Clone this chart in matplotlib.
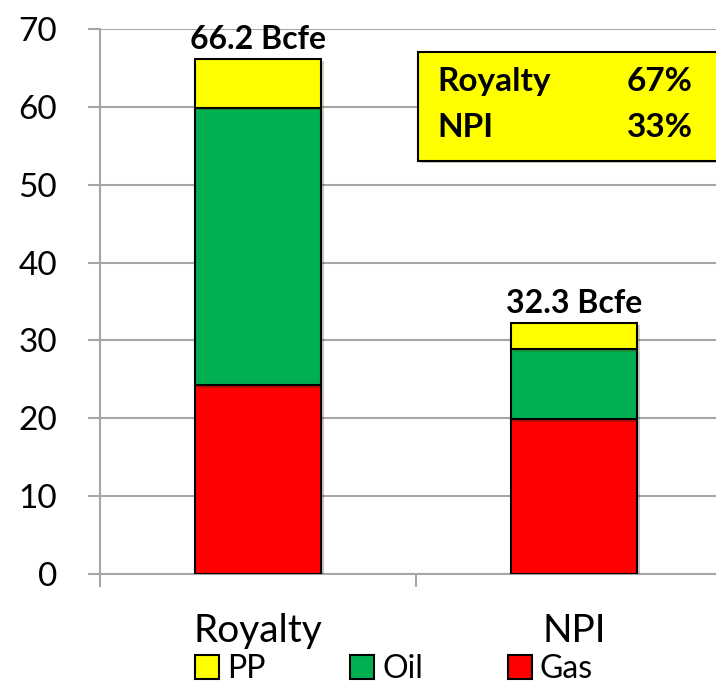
import matplotlib
matplotlib.use("Agg")
import matplotlib.pyplot as plt
from matplotlib.patches import Patch, Rectangle
import matplotlib.patheffects as pe

plt.rcParams['font.family'] = ['Lato', 'DejaVu Sans']

# ===================== data =====================
categories = ['Royalty', 'NPI']
gas = [24.3, 19.9]
oil = [35.6, 9.0]
pp = [6.3, 3.4]
totals = ['66.2 Bcfe', '32.3 Bcfe']
share_names = ['Royalty', 'NPI']
share_values = ['67%', '33%']

colors = {'Gas': '#FF0000', 'Oil': '#00B050', 'PP': '#FFFF00'}
grid_c = '#A6A6A6'

fig = plt.figure(figsize=(7.16, 6.84), dpi=100)
ax = fig.add_axes([100 / 716, 110 / 684, 632 / 716, 545 / 684])

x = list(range(len(categories)))
shadow = [pe.SimplePatchShadow(offset=(2, -2), alpha=0.25), pe.Normal()]
bw = 0.4
b1 = ax.bar(x, gas, bw, color=colors['Gas'], edgecolor='black', linewidth=1.5, zorder=3)
bottom2 = gas
b2 = ax.bar(x, oil, bw, bottom=bottom2, color=colors['Oil'], edgecolor='black', linewidth=1.5, zorder=3)
bottom3 = [g + o for g, o in zip(gas, oil)]
b3 = ax.bar(x, pp, bw, bottom=bottom3, color=colors['PP'], edgecolor='black', linewidth=1.5, zorder=3)
for bars in (b1, b2, b3):
    for b in bars:
        b.set_path_effects(shadow)

# total labels above bars
for xi, b, p, t in zip(x, bottom3, pp, totals):
    ax.text(xi, b + p + 0.6, t, ha='center', va='bottom', fontsize=23, fontweight='bold')

ax.set_xlim(-0.5, 1.5)
ax.set_ylim(0, 70)
ax.set_yticks(range(0, 71, 10))
ax.yaxis.grid(True, color=grid_c, linewidth=1.5, zorder=0)
ax.tick_params(axis='y', length=9, width=1.5, color=grid_c, pad=22, labelsize=24)

ax.set_xticks(x)
ax.set_xticklabels(categories, fontsize=28)
ax.tick_params(axis='x', which='major', length=0, pad=28)
ax.set_xticks([-0.5, 0.5], minor=True)
ax.tick_params(axis='x', which='minor', length=9, width=1.5, color=grid_c)

for s in ('top', 'right'):
    ax.spines[s].set_visible(False)
for s in ('left', 'bottom'):
    ax.spines[s].set_color(grid_c)
    ax.spines[s].set_linewidth(1.5)

# yellow share box
ax.add_patch(Rectangle((0.505, 53.1), 1.2, 13.9, facecolor='#FFFF00', edgecolor='black',
                       linewidth=1.5, zorder=4, clip_on=False,
                       path_effects=[pe.SimplePatchShadow(offset=(2, -2), alpha=0.3), pe.Normal()]))
for i, (n, v) in enumerate(zip(share_names, share_values)):
    yy = 63.3 - i * 5.9
    ax.text(0.568, yy, n, ha='left', va='center', fontsize=24, fontweight='bold', zorder=5)
    ax.text(1.375, yy, v, ha='right', va='center', fontsize=24, fontweight='bold', zorder=5)

# legend
handles = [Patch(facecolor=colors[k], edgecolor='black', linewidth=1.5) for k in ('PP', 'Oil', 'Gas')]
fig.legend(handles, ['PP', 'Oil', 'Gas'], loc='center', bbox_to_anchor=(0.55, 15 / 684),
           ncol=3, frameon=False, fontsize=23, handlelength=0.75, handleheight=0.75,
           handletextpad=0.25, columnspacing=2.65, borderaxespad=0, borderpad=0)

fig.savefig('out.png', dpi=100)
